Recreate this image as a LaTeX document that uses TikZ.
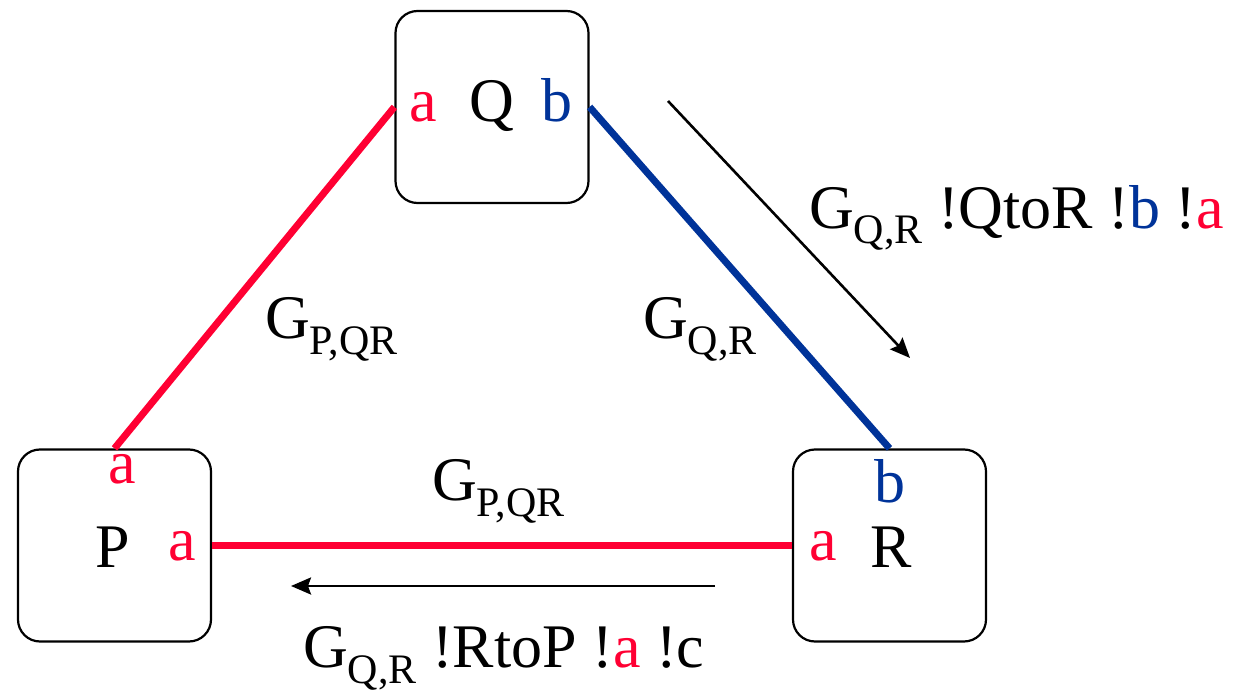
\documentclass[tikz,border=0pt]{standalone}
\usepackage{fontspec}
\setmainfont{Liberation Serif}
\newfontfamily\tnr{Liberation Serif}
\usetikzlibrary{arrows.meta}
\definecolor{myred}{RGB}{255,0,51}
\definecolor{myblue}{RGB}{0,51,153}
\newcommand{\sbs}[1]{\raisebox{-16pt}{\fontsize{42}{42}\selectfont #1}}
\begin{document}
\begin{tikzpicture}[x=1pt,y=-1pt,
 proc/.style={draw, line width=2.2pt, rounded corners=22pt, minimum width=193pt, minimum height=192pt, inner sep=0pt},
 txt/.style={font=\tnr\fontsize{62}{62}\selectfont, inner sep=0pt, anchor=base},
 lab/.style={txt, anchor=base west},
 chan/.style={line width=7pt},
 msg/.style={line width=2.6pt, -{Stealth[length=20pt,width=17pt,inset=3pt]}}]
\useasboundingbox (0,0) rectangle (1243,690);
% process boxes
\node[proc] (Q) at (492,107) {};
\node[proc] (P) at (114.5,545.5) {};
\node[proc] (R) at (889.5,545.5) {};
% box texts
\node[txt, text=myred] (qa) at (423,122) {a};
\node[txt] (qn) at (492,122) {Q};
\node[txt, text=myblue] (qb) at (557,122) {b};
\node[txt, text=myred] (pa1) at (122,483) {a};
\node[txt] (pn) at (113,567) {P};
\node[txt, text=myred] (pa2) at (182,560) {a};
\node[txt, text=myblue] (rb) at (890,502) {b};
\node[txt, text=myred] (ra) at (823,560) {a};
\node[txt] (rn) at (891,567) {R};
% channels
\draw[chan, myred] (Q.west) -- (P.north);
\draw[chan, myblue] (Q.east) -- (R.north);
\draw[chan, myred] (P.east) -- (R.west);
% channel labels
\node[lab] (l1) at (265,338) {G\sbs{P,QR}};
\node[lab] (l2) at (643,338) {G\sbs{Q,R}};
\node[lab] (l3) at (432,500) {G\sbs{P,QR}};
% messages
\coordinate (m1s) at (668,101);
\coordinate (m1e) at (910,358);
\draw[msg] (m1s) -- (m1e);
\node[lab] (l4) at (809,228) {G\sbs{Q,R} !QtoR !\textcolor{myblue}{b} !\textcolor{myred}{a}};
\coordinate (m2s) at (715,586);
\coordinate (m2e) at (291,586);
\draw[msg] (m2s) -- (m2e);
\node[lab] (l5) at (303,667) {G\sbs{Q,R} !RtoP !\textcolor{myred}{a} !c};
\end{tikzpicture}
\end{document}
